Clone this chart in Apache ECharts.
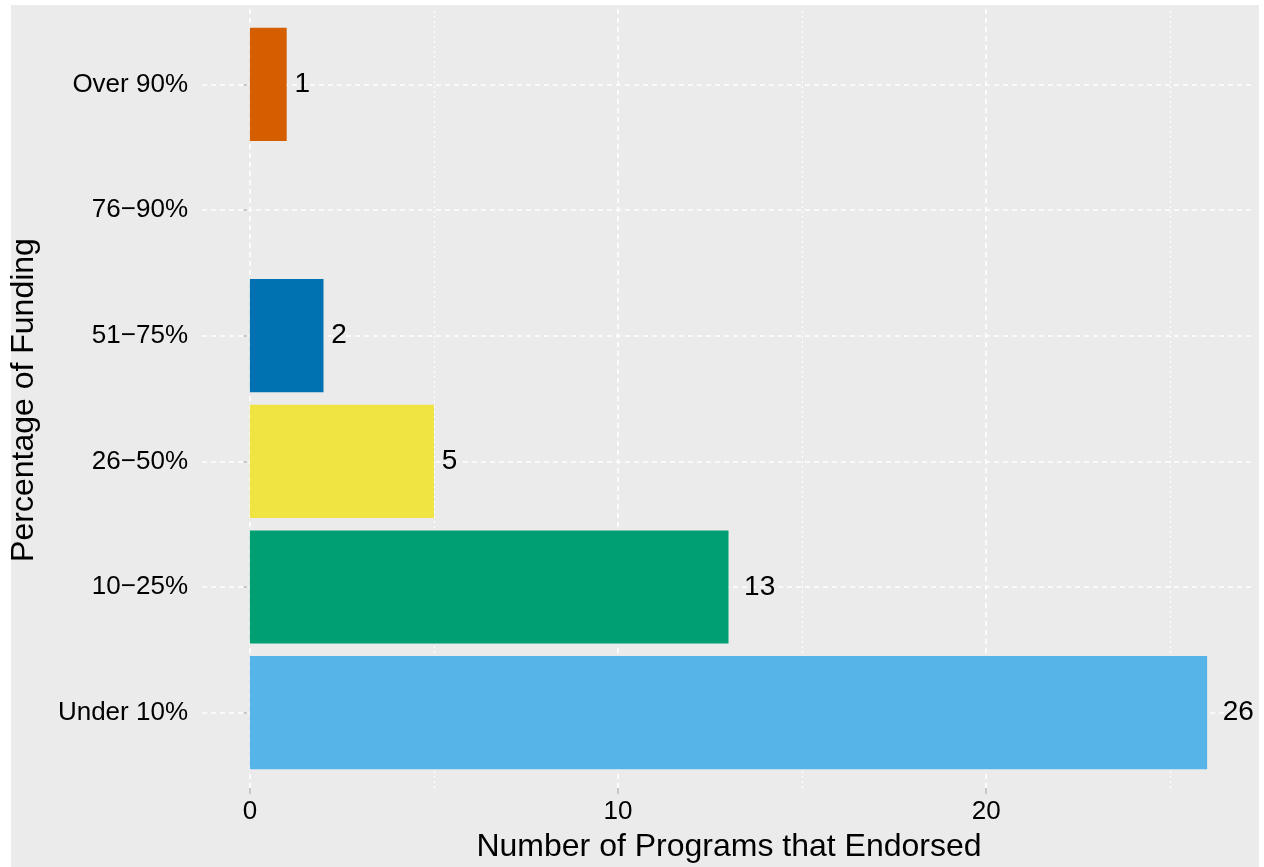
<!DOCTYPE html>
<html>
<head>
<meta charset="utf-8">
<script src="https://cdn.jsdelivr.net/npm/echarts@6/dist/echarts.min.js"></script>
<style>
html,body{margin:0;padding:0;background:#fff;}
#chart{width:1264px;height:867px;}
</style>
</head>
<body>
<div id="chart"></div>
<script>
// Data
const categories = ['Under 10%', '10\u221225%', '26\u221250%', '51\u221275%', '76\u221290%', 'Over 90%'];
const programCounts = [26, 13, 5, 2, 0, 1];
const xTickValues = [0, 10, 20];
const xMinorValues = [5, 15, 25];
const xLimits = [-1.3, 27.3];
const xTitle = 'Number of Programs that Endorsed';
const yTitle = 'Percentage of Funding';

// Styles
const barColors = ['#56B4E9', '#009E73', '#F0E442', '#0072B2', '#999999', '#D55E00'];
const FONT = "'Liberation Sans', Arial, Helvetica, sans-serif";

const chart = echarts.init(document.getElementById('chart'), null, {renderer: 'canvas'});

const barData = programCounts.map((v, i) => ({
  value: v > 0 ? v : '-',
  itemStyle: {color: barColors[i]},
  label: {show: v > 0, distance: 7.8 * String(v).length}
}));

const majorLine = {color: '#ffffff', width: 1.6, type: [5, 4]};
const minorLine = {color: '#ffffff', width: 1.1, type: [2, 3]};

const vLines = []
  .concat(xTickValues.map(v => ({xAxis: v, lineStyle: majorLine})))
  .concat(xMinorValues.map(v => ({xAxis: v, lineStyle: minorLine})));
const hLines = categories.map(c => ({yAxis: c, lineStyle: majorLine}));

const markBase = {silent: true, z: 1, symbol: ['none', 'none'], label: {show: false}, emphasis: {disabled: true}};

const option = {
  backgroundColor: '#ffffff',
  animation: false,
  textStyle: {fontFamily: FONT},
  graphic: [
    {type: 'rect', z: -100, silent: true, shape: {x: 11, y: 5, width: 1248, height: 862}, style: {fill: '#EBEBEB'}},
    {type: 'text', z: 10, silent: true, x: 729, y: 847,
     style: {text: xTitle, font: '32px ' + FONT, fill: '#000', align: 'center', verticalAlign: 'middle'}},
    {type: 'text', z: 10, silent: true, x: 24, y: 400, rotation: Math.PI / 2,
     style: {text: yTitle, font: '32px ' + FONT, fill: '#000', align: 'center', verticalAlign: 'middle'}}
  ],
  grid: [
    {left: 202, right: 9, top: 9, bottom: 79, containLabel: false},
    {left: 202, right: 9, top: 21.5, bottom: 91.5, containLabel: false}
  ],
  xAxis: [{
    type: 'value',
    gridIndex: 0,
    min: xLimits[0],
    max: xLimits[1],
    axisLine: {show: false},
    splitLine: {show: false},
    axisTick: {show: true, customValues: xTickValues, length: 6, lineStyle: {color: '#BDBDBD', width: 1.5}},
    axisLabel: {show: true, customValues: xTickValues, margin: 11, fontSize: 26, color: '#000', fontFamily: FONT}
  }, {
    type: 'value',
    gridIndex: 1,
    min: xLimits[0],
    max: xLimits[1],
    show: false,
    splitLine: {show: false}
  }],
  yAxis: [{
    type: 'value',
    gridIndex: 0,
    min: 0,
    max: 1,
    show: false,
    splitLine: {show: false}
  }, {
    type: 'category',
    gridIndex: 1,
    data: categories,
    axisLine: {show: false},
    splitLine: {show: false},
    axisTick: {show: true, alignWithLabel: true, length: 6, lineStyle: {color: '#BDBDBD', width: 1.5}},
    axisLabel: {margin: 14, fontSize: 26, color: '#000', fontFamily: FONT}
  }],
  series: [{
    type: 'scatter',
    xAxisIndex: 0,
    yAxisIndex: 0,
    data: [],
    silent: true,
    markLine: Object.assign({}, markBase, {data: vLines})
  }, {
    type: 'bar',
    xAxisIndex: 1,
    yAxisIndex: 1,
    z: 2,
    data: barData,
    barCategoryGap: '10%',
    label: {show: true, position: 'right', fontSize: 28, color: '#000', fontFamily: FONT},
    markLine: Object.assign({}, markBase, {data: hLines})
  }]
};
chart.setOption(option);
</script>
</body>
</html>
